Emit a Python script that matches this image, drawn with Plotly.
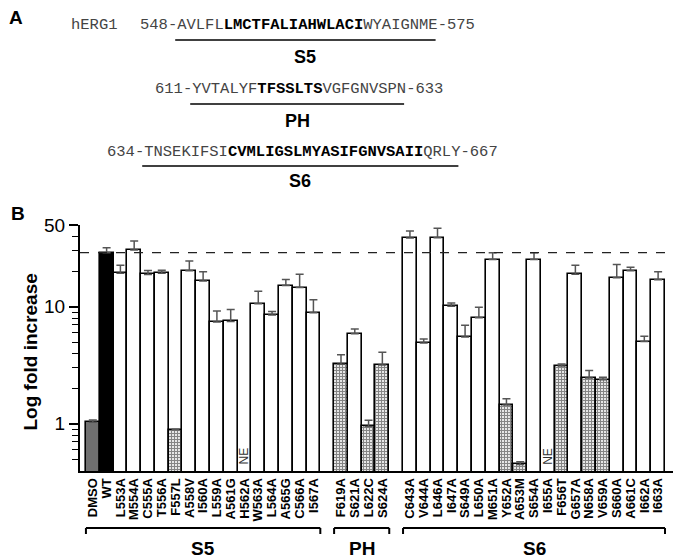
import math
import plotly.graph_objects as go

# ---------------- data ----------------
s5_labels = ["DMSO", "WT", "L553A", "M554A", "C555A", "T556A", "F557L", "A558V", "I560A",
             "L559A", "A561G", "H562A", "W563A", "L564A", "A565G", "C566A", "I567A"]
s5_values = [1.03, 29.0, 19.3, 30.5, 18.9, 19.3, 0.89, 20.3, 16.6,
             7.4, 7.5, None, 10.6, 8.5, 15.2, 14.6, 8.9]
s5_errtop = [1.08, 32.0, 22.7, 36.5, 20.4, 20.5, 0.90, 24.6, 19.9,
             9.2, 9.5, None, 13.6, 9.1, 17.1, 19.0, 11.5]
s5_kind = ["dmso", "wt", "open", "open", "open", "open", "hatch", "open", "open",
           "open", "open", "ne", "open", "open", "open", "open", "open"]

ph_labels = ["F619A", "S621A", "L622C", "S624A"]
ph_values = [3.22, 5.87, 0.95, 3.18]
ph_errtop = [3.9, 6.47, 1.07, 4.08]
ph_kind = ["hatch", "open", "hatch", "hatch"]

s6_labels = ["C643A", "V644A", "L646A", "I647A", "S649A", "L650A", "M651A", "Y652A", "A653M",
             "S654A", "I655A", "F656T", "G657A", "N658A", "V659A", "S660A", "A661C", "I662A", "I663A"]
s6_values = [38.7, 4.9, 39.0, 10.1, 5.53, 8.05, 25.3, 1.45, 0.45,
             25.3, None, 3.12, 19.0, 2.46, 2.38, 17.7, 20.3, 5.04, 17.0]
s6_errtop = [44.5, 5.3, 46.8, 10.8, 6.95, 9.9, 29.0, 1.64, 0.475,
             29.0, None, 3.25, 22.7, 2.85, 2.5, 23.0, 21.8, 5.6, 19.9]
s6_kind = ["open", "open", "open", "open", "open", "open", "open", "hatch", "hatch",
           "open", "ne", "hatch", "open", "hatch", "hatch", "open", "open", "open", "open"]

group_names = ["S5", "PH", "S6"]
y_major_ticks = [1, 10, 50]
y_minor_ticks = [0.5, 0.6, 0.7, 0.8, 0.9, 2, 3, 4, 5, 6, 7, 8, 9, 20, 30, 40]

seq_lines = [
    ("548-", "AVLFL", "LMCTFALIAHWLACI", "WYAIGNME", "-575"),
    ("611-", "YVTALYF", "TFSSLTS", "VGFGNVSPN", "-633"),
    ("634-", "TNSEKIFSI", "CVMLIGSLMYASIFGNVSAII", "QRLY", "-667"),
]
seq_region = ["S5", "PH", "S6"]

# ---------------- layout helpers ----------------
W, H = 675, 559
ML, MR, MT, MB = 80, 2, 225, 88
PW, PH_ = W - ML - MR, H - MT - MB


def px(x):
    return (x - ML) / PW


def py(y):
    return (H - MB - y) / PH_


groups = [(s5_labels, s5_values, s5_errtop, s5_kind),
          (ph_labels, ph_values, ph_errtop, ph_kind),
          (s6_labels, s6_values, s6_errtop, s6_kind)]

xs, labels, vals, errs, kinds = [], [], [], [], []
group_spans = []
pos = 0
for lab, v, e, k in groups:
    start = pos
    for i in range(len(lab)):
        xs.append(pos)
        labels.append(lab[i])
        vals.append(v[i])
        errs.append(e[i])
        kinds.append(k[i])
        pos += 1
    group_spans.append((start - 0.5, pos - 0.5))
    pos += 1  # gap slot

fig = go.Figure()

styles = {
    "dmso": dict(color="#707070", pattern=None),
    "wt": dict(color="black", pattern=None),
    "open": dict(color="white", pattern=None),
    "hatch": dict(color="white", pattern=dict(shape="+", fgcolor="#222222", bgcolor="#e6e6e6",
                                              size=3, solidity=0.55)),
}
for kind, st in styles.items():
    idx = [i for i in range(len(xs)) if kinds[i] == kind]
    if not idx:
        continue
    marker = dict(color=st["color"], line=dict(color="black", width=1.6))
    if st["pattern"]:
        marker["pattern"] = st["pattern"]
    fig.add_trace(go.Bar(
        x=[xs[i] for i in idx],
        y=[vals[i] for i in idx],
        width=1.0,
        marker=marker,
        error_y=dict(type="data", symmetric=False,
                     array=[errs[i] - vals[i] for i in idx],
                     arrayminus=[0] * len(idx),
                     color="#555555", thickness=1.5, width=4),
        showlegend=False,
    ))

xmin, xmax = -0.93, 42.08
wt_value = s5_values[s5_labels.index("WT")]
fig.add_trace(go.Scatter(x=[xmin, xmax], y=[wt_value, wt_value], mode="lines",
                         line=dict(color="#222222", width=1.3, dash="dash"),
                         showlegend=False, hoverinfo="skip"))

annotations = []
shapes = []


def ann(**kw):
    kw.setdefault("showarrow", False)
    kw.setdefault("xanchor", "center")
    kw.setdefault("yanchor", "middle")
    annotations.append(kw)


# NE labels
for i in range(len(xs)):
    if kinds[i] == "ne":
        ann(x=xs[i], xref="x", y=py(456), yref="paper", text="NE", textangle=-90,
            font=dict(family="Liberation Sans", size=12, color="#333333"))

# group brackets
for name, (a, b) in zip(group_names, group_spans):
    y0 = py(528)
    y1 = py(534)
    for (xa, xb, ya, yb) in [(a, b, y0, y0), (a, a, y0, y1), (b, b, y0, y1)]:
        shapes.append(dict(type="line", xref="x", yref="paper", x0=xa, x1=xb, y0=ya, y1=yb,
                           line=dict(color="black", width=2)))
    ann(x=(a + b) / 2, xref="x", y=py(548), yref="paper", text="<b>%s</b>" % name,
        font=dict(family="Liberation Sans", size=19, color="black"))

# Panel labels
ann(x=px(16), y=py(17), xref="paper", yref="paper", text="<b>A</b>",
    font=dict(family="Liberation Sans", size=19, color="black"))
ann(x=px(18), y=py(213), xref="paper", yref="paper", text="<b>B</b>",
    font=dict(family="Liberation Sans", size=19, color="black"))

# y title
ann(x=px(29.5), y=py(352), xref="paper", yref="paper", text="<b>Log fold increase</b>",
    textangle=-90, font=dict(family="Liberation Sans", size=19, color="black"))

# sequences
mono = "Liberation Mono"
charw = 9.3
seq_x = [138, 153, 105]
seq_y = [25, 89, 152]
ul_y = [40, 104, 166]
lab_y = [57, 121, 181]
ann(x=px(69), y=py(25), xref="paper", yref="paper", text="hERG1", xanchor="left",
    font=dict(family=mono, size=15.5, color="#444444"))
for k, parts in enumerate(seq_lines):
    pre, left, core, right, post = parts
    txt = (pre + left + "<b><span style='color:black'>" + core + "</span></b>" + right + post)
    ann(x=px(seq_x[k]), y=py(seq_y[k]), xref="paper", yref="paper", text=txt, xanchor="left",
        font=dict(family=mono, size=15.5, color="#444444"))
    u0 = seq_x[k] + charw * len(pre)
    u1 = u0 + charw * (len(left) + len(core) + len(right))
    shapes.append(dict(type="line", xref="paper", yref="paper", x0=px(u0), x1=px(u1),
                       y0=py(ul_y[k]), y1=py(ul_y[k]), line=dict(color="black", width=1.5)))
    ann(x=px((u0 + u1) / 2), y=py(lab_y[k]), xref="paper", yref="paper",
        text="<b>%s</b>" % seq_region[k],
        font=dict(family="Liberation Sans", size=18, color="black"))

fig.update_layout(
    width=W, height=H,
    margin=dict(l=ML, r=MR, t=MT, b=MB, pad=0),
    paper_bgcolor="white", plot_bgcolor="white",
    barmode="overlay", bargap=0,
    annotations=annotations, shapes=shapes,
    font=dict(family="Liberation Sans", color="black"),
    xaxis=dict(range=[xmin, xmax], tickmode="array", tickvals=xs,
               ticktext=["<b>%s</b>" % l for l in labels], tickangle=-90,
               tickfont=dict(family="Liberation Sans", size=13, color="black"),
               showline=True, linecolor="black", linewidth=2, ticks="",
               showgrid=False, zeroline=False, automargin=False),
    yaxis=dict(type="log", range=[math.log10(0.395), math.log10(50)],
               tickmode="array", tickvals=y_major_ticks, ticktext=[str(v) for v in y_major_ticks],
               ticks="outside", ticklen=9, tickwidth=1.5, tickcolor="black",
               minor=dict(tickmode="array", tickvals=y_minor_ticks, ticks="outside",
                          ticklen=6, tickwidth=1.3, tickcolor="black", showgrid=False),
               tickfont=dict(family="Liberation Sans", size=19, color="black"),
               showline=True, linecolor="black", linewidth=2,
               showgrid=False, zeroline=False, automargin=False),
)

fig.write_html("out.html",
               config={"displayModeBar": False},
               post_script="document.body.style.margin='0px';"
                           "document.documentElement.style.overflow='hidden';")
